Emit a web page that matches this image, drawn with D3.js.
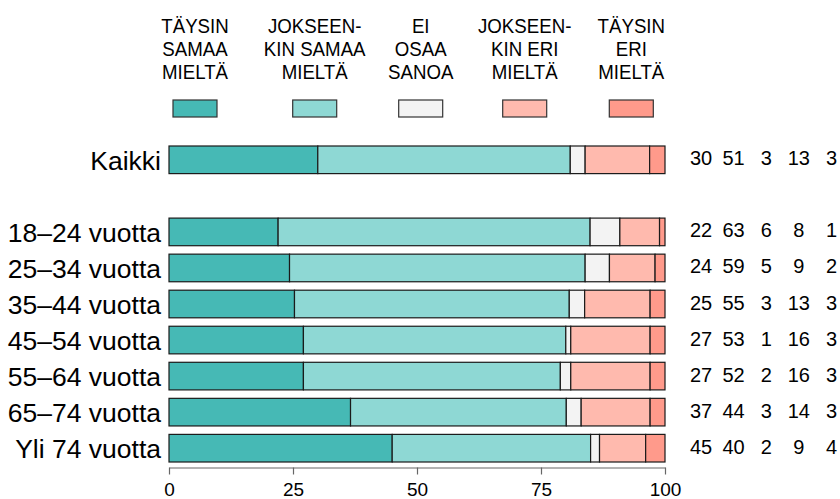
<!DOCTYPE html>
<html>
<head>
<meta charset="utf-8">
<script src="https://cdn.jsdelivr.net/npm/d3@7"></script>
<style>
    body { margin: 0; background: #fff; }
    svg { display: block; font-family: "Liberation Sans", Arial, sans-serif; }
</style>
</head>
<body>
<svg id="chart" width="840" height="499"></svg>
<script>
// rows (an empty row leaves the gap under "Kaikki")
var rows = ['Kaikki', '', '18–24 vuotta', '25–34 vuotta', '35–44 vuotta', '45–54 vuotta',
            '55–64 vuotta', '65–74 vuotta', 'Yli 74 vuotta'];

// shares in percent, one value per non-empty row
var taysinSamaa     = [30.0, 22.0, 24.3, 25.3, 27.1, 27.1, 36.6, 45.0];
var jokseenkinSamaa = [50.9, 62.9, 59.6, 55.4, 52.9, 51.8, 43.5, 40.0];
var eiOsaaSanoa     = [3.0, 6.0, 4.9, 3.1, 1.0, 2.1, 3.0, 1.8];
var jokseenkinEri   = [13.0, 8.0, 9.2, 13.2, 16.0, 16.0, 13.9, 9.3];
var taysinEri       = [3.1, 1.1, 2.0, 3.0, 3.0, 3.0, 3.0, 3.9];

// rounded numbers printed at the right
var printedValues = [
    [30, 51, 3, 13, 3],
    [22, 63, 6, 8, 1],
    [24, 59, 5, 9, 2],
    [25, 55, 3, 13, 3],
    [27, 53, 1, 16, 3],
    [27, 52, 2, 16, 3],
    [37, 44, 3, 14, 3],
    [45, 40, 2, 9, 4]
];

var legendLabels = [
    ['TÄYSIN', 'SAMAA', 'MIELTÄ'],
    ['JOKSEEN-', 'KIN SAMAA', 'MIELTÄ'],
    ['EI', 'OSAA', 'SANOA'],
    ['JOKSEEN-', 'KIN ERI', 'MIELTÄ'],
    ['TÄYSIN', 'ERI', 'MIELTÄ']
];

var xTicks = [0, 25, 50, 75, 100];

var colors = ['#46b9b5', '#8ed8d4', '#f3f3f3', '#ffbaae', '#ff9a8b'];

// layout
var layout = {
    barLeft: 169,
    barRight: 665,
    top: 146,
    bottom: 462,
    labelRight: 161,
    numbersLeft: 701,
    numbersRight: 831.5,
    legendCenters: [195, 314.7, 420.7, 524.7, 631.3],
    legendBox: { y: 100, w: 44, h: 17 },
    legendBaselines: [32.5, 55.5, 78.5]
};

var series = [taysinSamaa, jokseenkinSamaa, eiOsaaSanoa, jokseenkinEri, taysinEri];
var dataRows = rows.filter(function(r) { return r !== ''; });

var svg = d3.select('#chart');

var x = d3.scaleLinear()
    .domain([0, 100])
    .range([layout.barLeft, layout.barRight]);

var y = d3.scaleBand()
    .domain(rows)
    .range([layout.top, layout.bottom])
    .paddingInner(0.234)
    .paddingOuter(0);

var numX = d3.scalePoint()
    .domain(d3.range(series.length))
    .range([layout.numbersLeft, layout.numbersRight]);

// stack the segments of each row
var segments = [];
dataRows.forEach(function(row, i) {
    var start = 0;
    series.forEach(function(values, k) {
        segments.push({ row: row, k: k, x0: start, x1: start + values[i] });
        start += values[i];
    });
});

// bars
svg.append('g')
    .attr('class', 'bars')
    .selectAll('rect')
    .data(segments)
    .enter().append('rect')
        .attr('x', function(d) { return x(d.x0); })
        .attr('y', function(d) { return y(d.row); })
        .attr('width', function(d) { return x(d.x1) - x(d.x0); })
        .attr('height', y.bandwidth())
        .attr('fill', function(d) { return colors[d.k]; })
        .attr('stroke', '#1a1a1a')
        .attr('stroke-width', 1.2);

// row labels
svg.append('g')
    .attr('class', 'row-labels')
    .selectAll('text')
    .data(dataRows)
    .enter().append('text')
        .attr('x', layout.labelRight)
        .attr('y', function(d) { return y(d) + y.bandwidth() / 2 + 9.8; })
        .attr('text-anchor', 'end')
        .attr('font-size', 26.5)
        .attr('fill', '#000')
        .text(function(d) { return d; });

// printed numbers
var numberRows = svg.append('g')
    .attr('class', 'numbers')
    .selectAll('g')
    .data(dataRows)
    .enter().append('g')
        .attr('transform', function(d) { return 'translate(0,' + (y(d) + y.bandwidth() / 2 + 5.5) + ')'; });

numberRows.selectAll('text')
    .data(function(d, i) { return printedValues[i]; })
    .enter().append('text')
        .attr('x', function(d, k) { return numX(k); })
        .attr('text-anchor', 'middle')
        .attr('font-size', 20)
        .text(function(d) { return d; });

// x axis
var axis = svg.append('g')
    .attr('class', 'x-axis')
    .attr('transform', 'translate(0,' + (layout.bottom + 5.5) + ')')
    .call(d3.axisBottom(x).tickValues(xTicks).tickSize(7).tickSizeOuter(0).tickPadding(8));

axis.select('.domain').attr('stroke', '#666').attr('stroke-width', 1.2);
axis.selectAll('.tick line').attr('stroke', '#666').attr('stroke-width', 1.2);
axis.selectAll('.tick text')
    .attr('font-size', 19)
    .attr('font-family', '"Liberation Sans", Arial, sans-serif')
    .attr('fill', '#000');

// legend
var legend = svg.append('g')
    .attr('class', 'legend')
    .selectAll('g')
    .data(legendLabels)
    .enter().append('g')
        .attr('transform', function(d, k) { return 'translate(' + layout.legendCenters[k] + ',0)'; });

legend.append('rect')
    .attr('x', -layout.legendBox.w / 2)
    .attr('y', layout.legendBox.y)
    .attr('width', layout.legendBox.w)
    .attr('height', layout.legendBox.h)
    .attr('fill', function(d, k) { return colors[k]; })
    .attr('stroke', '#333')
    .attr('stroke-width', 1.2);

legend.selectAll('text')
    .data(function(d) { return d; })
    .enter().append('text')
        .attr('transform', function(d, j) { return 'translate(0,' + layout.legendBaselines[j] + ') scale(0.89,1)'; })
        .attr('text-anchor', 'middle')
        .attr('font-size', 21)
        .text(function(d) { return d; });
</script>
</body>
</html>
